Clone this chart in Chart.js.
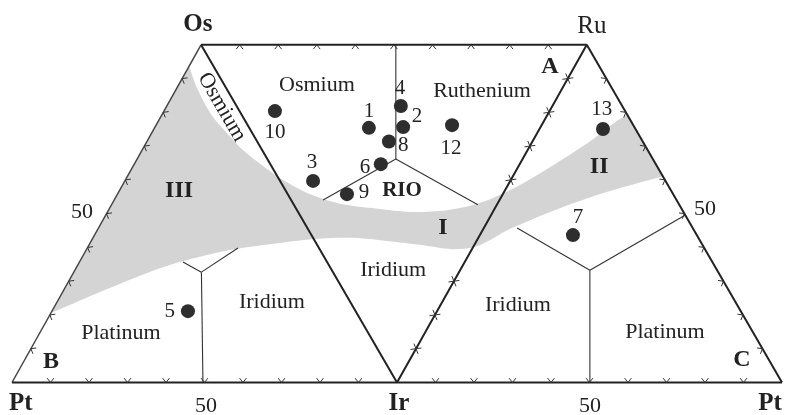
<!DOCTYPE html>
<html>
<head>
<meta charset="utf-8">
<script src="https://cdn.jsdelivr.net/npm/chart.js@4.4.1/dist/chart.umd.min.js"></script>
<style>
  html, body { margin: 0; padding: 0; background: #fff; }
  canvas { display: block; }
</style>
</head>
<body>
<canvas id="ternary" width="785" height="415"></canvas>
<script>
// Diagram units: base Pt(0) - Ir(100) - Pt(200), apex height 86.6
var vertexX = [0, 100, 200, 49.1, 149.3];   // Pt, Ir, Pt, Os, Ru
var vertexY = [0, 0, 0, 86.6, 86.6];

// grains
var grainIds = ['1', '2', '3', '4', '5', '6', '7', '8', '9', '10', '12', '13'];
var grainX = [92.7, 101.6, 78.2, 101.0, 45.7, 95.8, 145.7, 97.9, 87.0, 68.3, 114.3, 153.5];
var grainY = [65.3, 65.5, 51.7, 70.9, 18.3, 56.0, 37.8, 61.8, 48.3, 69.6, 66.0, 65.0];
var grainLabelX = [92.7, 105.2, 77.9, 100.8, 41.0, 91.7, 147.0, 101.6, 91.4, 68.3, 114.0, 153.2];
var grainLabelY = [69.4, 68.1, 56.3, 75.3, 18.3, 55.2, 42.4, 60.9, 48.6, 64.2, 60.1, 69.9];

// grey field: lower limit (Pt-Os side -> Ru-Pt side), upper limit (Ru-Pt side -> Pt-Os side)
var gapLowX = [10.1, 22.1, 35.1, 43.6, 56.6, 69.6, 78.7, 87.8, 95.6, 106.0, 114.3, 121.0, 129.4, 142.3, 155.3, 169.1];
var gapLowY = [17.8, 22.9, 28.1, 30.9, 34.0, 35.8, 36.8, 37.1, 36.5, 35.3, 34.2, 35.0, 39.4, 44.7, 49.1, 52.9];
var gapHighX = [159.7, 157.1, 150.9, 142.3, 133.8, 124.9, 119.0, 113.0, 104.2, 95.6, 87.0, 80.8, 75.6,
                70.4, 65.2, 60.0, 55.8, 52.2, 49.6, 47.5, 46.0];
var gapHighY = [68.6, 67.05, 62.4, 56.8, 51.7, 47.3, 45.3, 44.2, 43.7, 44.5, 45.5, 47.05, 49.1,
                51.9, 55.5, 59.6, 64.0, 68.1, 72.4, 76.8, 81.2];

// field boundaries: three junctions (A, B, C) with three branches each
var junctionX = [99.7, 49.2, 150.1];
var junctionY = [57.3, 28.3, 28.8];
var branchX = [[99.7, 80.8, 121.0], [49.6, 44.4, 58.7], [150.1, 131.2, 174.8]];
var branchY = [[86.6, 46.8, 45.6], [0, 30.9, 34.5], [0, 39.6, 42.9]];

// text
var cornerText = ['Os', 'Ru', 'Pt', 'Ir', 'Pt'];
var cornerX = [48.3, 150.6, 2.3, 100.5, 196.9];
var cornerY = [91.7, 91.4, -5.5, -5.5, -5.5];
var tickText = ['50', '50', '50', '50'];
var tickX = [50.4, 150.1, 18.2, 180.0];
var tickY = [-6.0, -6.0, 43.7, 44.5];
var triText = ['A', 'B', 'C'];
var triX = [139.7, 10.1, 189.6];
var triY = [80.9, 5.3, 5.8];
var fieldText = ['Osmium', 'Ruthenium', 'Iridium', 'Iridium', 'Iridium', 'Platinum', 'Platinum'];
var fieldX = [79.2, 122.1, 99.0, 67.5, 131.4, 28.3, 169.6];
var fieldY = [76.3, 74.7, 28.8, 20.6, 19.9, 12.7, 12.9];
var zoneText = ['III', 'II', 'I', 'RIO'];
var zoneX = [43.4, 152.5, 111.9, 101.3];
var zoneY = [49.1, 55.2, 39.6, 49.1];

var serif = "'Liberation Serif', 'Times New Roman', serif";

function pts(xs, ys) {
    return xs.map(function (x, i) { return { x: x, y: ys[i] }; });
}
function seg(a, b) {
    return [{ x: vertexX[a], y: vertexY[a] }, { x: vertexX[b], y: vertexY[b] }];
}

// closed outline; corners repeated so the curve stays sharp where it meets the triangle sides
var lowPts = pts(gapLowX, gapLowY);
var highPts = pts(gapHighX, gapHighY);
var gapShape = lowPts.concat([lowPts[lowPts.length - 1], highPts[0]], highPts);

var datasets = [];

datasets.push({
    type: 'scatter',
    data: pts(grainX, grainY),
    pointRadius: 7,
    pointBackgroundColor: '#2e2e2e',
    pointBorderWidth: 0,
    clip: false,
    order: 0
});

// outer edges
[[0, 1], [1, 2], [3, 4], [4, 2], [3, 1], [1, 4]].forEach(function (e) {
    datasets.push({
        type: 'line',
        data: seg(e[0], e[1]),
        borderColor: '#222',
        borderWidth: 2,
        pointRadius: 0,
        fill: false,
        clip: false,
        order: 1
    });
});
datasets.push({
    type: 'line',
    data: seg(0, 3),
    borderColor: '#444',
    borderWidth: 1.5,
    pointRadius: 0,
    fill: false,
    clip: false,
    order: 1
});

// inner boundaries
junctionX.forEach(function (jx, j) {
    branchX[j].forEach(function (bx, k) {
        datasets.push({
            type: 'line',
            data: [{ x: jx, y: junctionY[j] }, { x: bx, y: branchY[j][k] }],
            borderColor: '#333',
            borderWidth: 1.1,
            pointRadius: 0,
            fill: false,
            clip: false,
            order: 2
        });
    });
});

datasets.push({
    type: 'line',
    data: gapShape,
    borderWidth: 0,
    borderColor: 'rgba(0,0,0,0)',
    backgroundColor: '#d4d4d4',
    fill: 'shape',
    tension: 0.3,
    pointRadius: 0,
    clip: false,
    order: 5
});

// arrow ticks every 10% along the edges
var edgeTicks = [
    { from: 0, to: 1, dirs: [[0, 1]], skip: [] },
    { from: 1, to: 2, dirs: [[0, 1]], skip: [] },
    { from: 3, to: 4, dirs: [[0, -1]], skip: [] },
    { from: 0, to: 3, dirs: [[-0.866, -0.5]], skip: [] },
    { from: 4, to: 2, dirs: [[0.866, -0.5]], skip: [] },
    { from: 1, to: 4, dirs: [[0.866, 0.5], [-0.866, -0.5]], skip: [4, 5] }
];

var overlay = {
    id: 'overlay',
    afterDatasetsDraw: function (chart) {
        var ctx = chart.ctx;
        var sx = chart.scales.x, sy = chart.scales.y;
        function px(v) { return sx.getPixelForValue(v); }
        function py(v) { return sy.getPixelForValue(v); }

        ctx.save();
        ctx.strokeStyle = '#333';
        ctx.lineWidth = 1;
        var L = 5.5, a = 38 * Math.PI / 180;
        edgeTicks.forEach(function (e) {
            for (var i = 1; i <= 9; i++) {
                if (e.skip.indexOf(i) >= 0) continue;
                var t = i / 10;
                var x = px(vertexX[e.from] + (vertexX[e.to] - vertexX[e.from]) * t);
                var y = py(vertexY[e.from] + (vertexY[e.to] - vertexY[e.from]) * t);
                e.dirs.forEach(function (d) {
                    ctx.beginPath();
                    [a, -a].forEach(function (r, n) {
                        var rx = d[0] * Math.cos(r) - d[1] * Math.sin(r);
                        var ry = d[0] * Math.sin(r) + d[1] * Math.cos(r);
                        if (n === 0) {
                            ctx.moveTo(x - L * rx, y - L * ry);
                            ctx.lineTo(x, y);
                        } else {
                            ctx.lineTo(x - L * rx, y - L * ry);
                        }
                    });
                    ctx.stroke();
                });
            }
        });

        ctx.fillStyle = '#222';
        ctx.textAlign = 'center';
        ctx.textBaseline = 'middle';
        function write(texts, xs, ys, font) {
            texts.forEach(function (s, i) {
                ctx.font = typeof font === 'function' ? font(i) : font;
                ctx.fillText(s, px(xs[i]), py(ys[i]));
            });
        }
        write(cornerText, cornerX, cornerY, function (i) {
            return (i === 1 ? '' : 'bold ') + '25px ' + serif;
        });
        write(tickText, tickX, tickY, '22px ' + serif);
        write(triText, triX, triY, 'bold 24px ' + serif);
        write(fieldText, fieldX, fieldY, '22px ' + serif);
        write(zoneText, zoneX, zoneY, function (i) {
            return 'bold ' + (i === 3 ? '21px ' : '24px ') + serif;
        });
        write(grainIds, grainLabelX, grainLabelY, '21px ' + serif);

        // Osmium written along the Os-Ir edge
        ctx.font = '22px ' + serif;
        ctx.translate(px(54.5), py(70.6));
        ctx.rotate(60 * Math.PI / 180);
        ctx.fillText('Osmium', 0, 0);
        ctx.restore();
    }
};

new Chart(document.getElementById('ternary'), {
    type: 'scatter',
    data: { datasets: datasets },
    options: {
        responsive: false,
        animation: false,
        devicePixelRatio: 1,
        layout: { autoPadding: false, padding: { left: 12, right: 3, top: 44.8, bottom: 32.5 } },
        scales: {
            x: { type: 'linear', min: 0, max: 200, display: false },
            y: { type: 'linear', min: 0, max: 86.6, display: false }
        },
        plugins: {
            legend: { display: false },
            tooltip: { enabled: false }
        }
    },
    plugins: [overlay]
});
</script>
</body>
</html>
